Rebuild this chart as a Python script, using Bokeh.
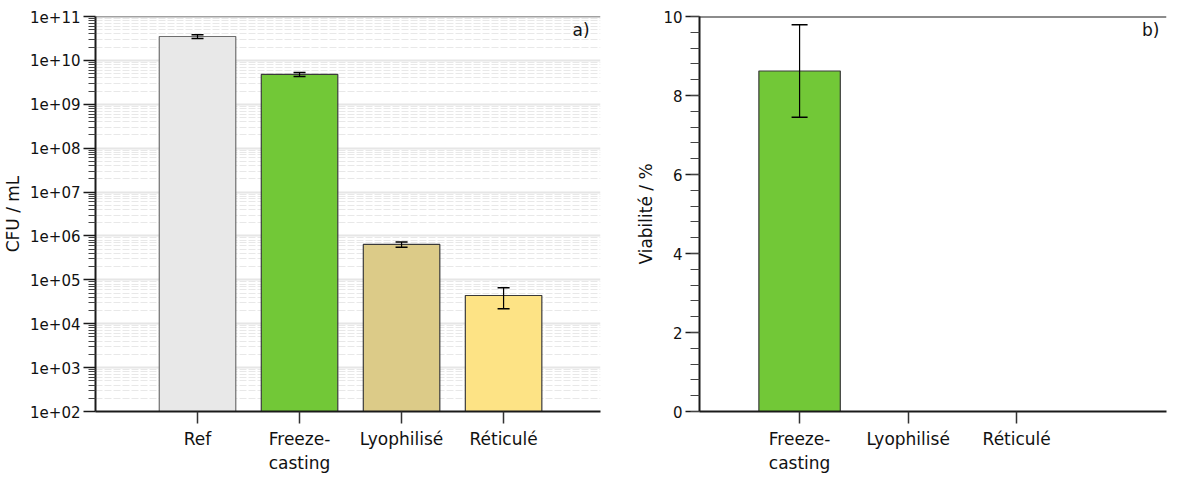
from bokeh.plotting import figure
from bokeh.models import (ColumnDataSource, Whisker, TeeHead, FixedTicker, Span, Label)
from bokeh.layouts import row
from bokeh.embed import file_html
from bokeh.resources import INLINE

# ---- data: panel a ----
cat_a = ["Ref", "Freeze-\ncasting", "Lyophilisé", "Réticulé"]
cfu = [3.5e10, 4.8e9, 6.4e5, 4.4e4]
cfu_err = [0.35e10, 0.5e9, 0.9e5, 2.2e4]
colors_a = ["#e8e8e8", "#72c837", "#dccb88", "#fde385"]
edge_a = ["#6e6e6e", "#3a3a3a", "#3a3a3a", "#3a3a3a"]
y_ticks_a = [1e2, 1e3, 1e4, 1e5, 1e6, 1e7, 1e8, 1e9, 1e10, 1e11]
y_labels_a = ["1e+02", "1e+03", "1e+04", "1e+05", "1e+06", "1e+07", "1e+08", "1e+09", "1e+10", "1e+11"]

# ---- data: panel b ----
cat_b = ["Freeze-\ncasting", "Lyophilisé", "Réticulé"]
viab = [8.62, 0.0, 0.0]
viab_err = [1.17, 0.0, 0.0]
colors_b = ["#72c837", "#72c837", "#72c837"]
y_ticks_b = [0, 2, 4, 6, 8, 10]

FONT = "DejaVu Sans"

def style_axes(p):
    for ax in p.axis:
        ax.axis_line_color = "#1a1a1a"
        ax.axis_line_width = 2
        ax.major_tick_line_color = "#1a1a1a"
        ax.major_tick_line_width = 1.5
        ax.major_tick_in = 0
        ax.major_tick_out = 12
        ax.minor_tick_in = 0
        ax.minor_tick_out = 7
        ax.minor_tick_line_color = "#444444"
        ax.major_label_text_font = FONT
        ax.major_label_text_font_size = "15px"
        ax.major_label_text_color = "#111111"
        ax.major_label_standoff = 3
        ax.axis_label_text_font = FONT
        ax.axis_label_text_font_size = "17px"
        ax.axis_label_text_font_style = "normal"
        ax.axis_label_text_color = "#111111"
        ax.axis_label_standoff = 4
    for ax in p.xaxis:
        ax.major_label_text_font_size = "17px"
        ax.major_label_standoff = 5
        ax.major_tick_line_color = "#333333"

# ================= Panel a =================
xa = list(range(1, len(cat_a) + 1))
src_a = ColumnDataSource(dict(
    x=xa, top=cfu, color=colors_a, edge=edge_a,
    upper=[v + e for v, e in zip(cfu, cfu_err)],
    lower=[v - e for v, e in zip(cfu, cfu_err)],
))

pa = figure(frame_width=505, frame_height=395,
            y_axis_type="log", x_range=(0, 4.95), y_range=(1e2, 1e11),
            output_backend="svg", toolbar_location=None,
            min_border_left=95, min_border_right=10, min_border_top=16, min_border_bottom=58)
pa.outline_line_color = None
pa.background_fill_color = "white"

pa.vbar(x="x", top="top", bottom=1, width=0.75, source=src_a,
        fill_color="color", line_color="edge", line_width=1.2)
pa.add_layout(Whisker(source=src_a, base="x", upper="upper", lower="lower", level="overlay",
                      line_color="black", line_width=1.2,
                      upper_head=TeeHead(size=12, line_color="black", line_width=1.5),
                      lower_head=TeeHead(size=12, line_color="black", line_width=1.5)))

minor_a = [k * 10.0 ** d for d in range(2, 11) for k in range(2, 10)]
pa.yaxis.ticker = FixedTicker(ticks=y_ticks_a, minor_ticks=minor_a)
pa.yaxis.major_label_overrides = {t: l for t, l in zip(y_ticks_a, y_labels_a)}
pa.yaxis.axis_label = "CFU / mL"
pa.xaxis.ticker = FixedTicker(ticks=xa, minor_ticks=[])
pa.xaxis.major_label_overrides = {x: c for x, c in zip(xa, cat_a)}

pa.xgrid.grid_line_color = None
pa.ygrid.grid_line_color = "#e6e6e6"
pa.ygrid.grid_line_width = 2
pa.ygrid.minor_grid_line_color = "#e8e8e8"
pa.ygrid.minor_grid_line_dash = "7 2"
pa.ygrid.minor_grid_line_width = 1

style_axes(pa)
pa.add_layout(Span(location=y_ticks_a[-1], dimension="width", line_color="#444444",
                   line_width=1.5, level="overlay"))

pa.add_layout(Label(x=4.76, y=4.8e10, text="a)", text_font=FONT, text_font_size="17px",
                    text_align="center", text_baseline="middle", text_color="#111111"))

# ================= Panel b =================
xb = list(range(1, len(cat_b) + 1))
src_b = ColumnDataSource(dict(x=xb, top=viab, color=colors_b))
src_bw = ColumnDataSource(dict(
    x=[x for x, e in zip(xb, viab_err) if e > 0],
    upper=[v + e for v, e in zip(viab, viab_err) if e > 0],
    lower=[v - e for v, e in zip(viab, viab_err) if e > 0],
))

pb = figure(frame_width=467, frame_height=395,
            x_range=(0.078, 4.38), y_range=(0, 10),
            output_backend="svg", toolbar_location=None,
            min_border_left=89, min_border_right=4, min_border_top=16, min_border_bottom=58)
pb.outline_line_color = None
pb.grid.grid_line_color = None

pb.vbar(x="x", top="top", bottom=0, width=0.75, source=src_b,
        fill_color="color", line_color="#3a3a3a", line_width=1.2)
pb.add_layout(Whisker(source=src_bw, base="x", upper="upper", lower="lower", level="overlay",
                      line_color="black", line_width=1.2,
                      upper_head=TeeHead(size=16, line_color="black", line_width=1.5),
                      lower_head=TeeHead(size=16, line_color="black", line_width=1.5)))

pb.yaxis.ticker = FixedTicker(ticks=y_ticks_b,
                              minor_ticks=[i * 0.4 for i in range(0, 26)])
pb.yaxis.axis_label = "Viabilité / %"
pb.xaxis.ticker = FixedTicker(ticks=xb, minor_ticks=[])
pb.xaxis.major_label_overrides = {x: c for x, c in zip(xb, cat_b)}

style_axes(pb)
pb.yaxis.major_tick_out = 14
pb.yaxis.minor_tick_out = 9
pb.add_layout(Span(location=y_ticks_b[-1], dimension="width", line_color="#1a1a1a",
                   line_width=2, level="overlay"))

pb.add_layout(Label(x=4.235, y=9.65, text="b)", text_font=FONT, text_font_size="17px",
                    text_align="center", text_baseline="middle", text_color="#111111"))

layout = row(pa, pb, spacing=0)
open("out.html", "w").write(file_html(layout, INLINE))
